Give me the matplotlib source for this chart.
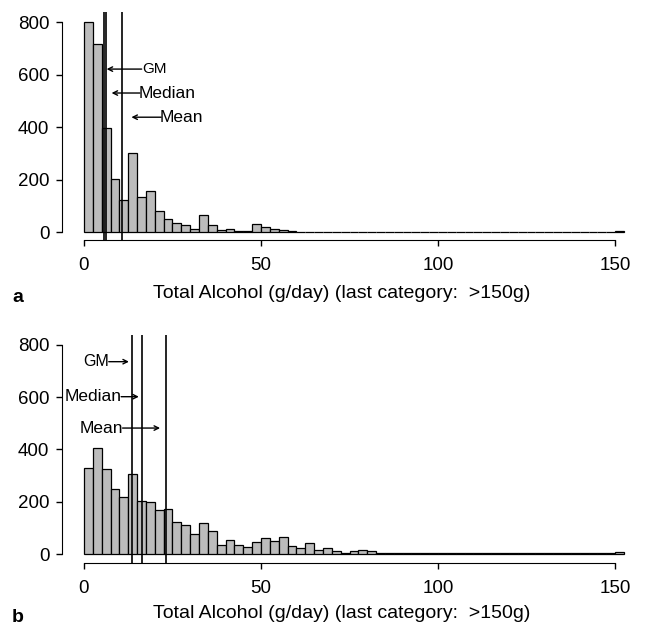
import numpy as np
import matplotlib.pyplot as plt

plt.rcParams['font.family'] = ['Liberation Sans', 'DejaVu Sans']

# bins of 2.5 g/day, last bin = ">150g"
bin_width = 2.5

# panel a: counts per bin
counts_a = [800, 716, 397, 204, 125, 301, 134, 157, 82, 52,
            34, 27, 11, 65, 28, 9, 11, 5, 5, 30,
            20, 13, 10, 4, 3, 2, 2, 2, 3, 1,
            2, 3, 2, 1, 3, 2, 1, 1, 1, 1,
            1, 1, 1, 1, 1, 1, 1, 1, 1, 1,
            1, 1, 1, 1, 1, 1, 1, 1, 1, 1,
            4]
# panel b: counts per bin
counts_b = [329, 404, 325, 248, 218, 307, 201, 199, 167, 172,
            124, 110, 78, 120, 89, 36, 55, 36, 27, 45,
            62, 51, 64, 29, 23, 42, 17, 23, 11, 4,
            13, 17, 11, 5, 5, 5, 5, 2, 2, 2,
            2, 5, 5, 3, 3, 3, 2, 2, 2, 2,
            2, 2, 2, 2, 2, 2, 2, 2, 2, 3,
            7]

stats_a = {'GM': 5.7, 'Median': 6.3, 'Mean': 10.7}
stats_b = {'GM': 13.7, 'Median': 16.3, 'Mean': 23.1}

W, H = 645, 629
fig = plt.figure(figsize=(W / 100, H / 100), dpi=100)


def px_axes(left, right, top, bottom):
    return fig.add_axes([left / W, 1 - bottom / H, (right - left) / W, (bottom - top) / H])


def draw_hist(ax, counts, lines, ybot):
    edges = np.arange(len(counts)) * bin_width
    ax.bar(edges, counts, width=bin_width, align='edge', color='#bcbcbc',
           edgecolor='black', linewidth=0.9)
    for v in lines.values():
        ax.vlines(v, ybot, 840, color='black', linewidth=1.2)
    ax.set_xlim(-6.2, 155.9)
    ax.set_ylim(ybot, 840)
    for s in ['top', 'right']:
        ax.spines[s].set_visible(False)
    ax.spines['bottom'].set_bounds(0, 150)
    ax.spines['left'].set_bounds(0, 800)
    ax.set_xticks([0, 50, 100, 150])
    ax.set_yticks([0, 200, 400, 600, 800])
    ax.tick_params(direction='out', length=4, width=1, pad=5, labelsize=13.5)
    ax.tick_params(axis='x', pad=8)


arrow = dict(arrowstyle='->', color='black', lw=1, mutation_scale=8, shrinkA=0, shrinkB=0)

# panel a
ax1 = px_axes(62, 636, 11.5, 240)
draw_hist(ax1, counts_a, stats_a, -29)
ax1.annotate('', xy=(6.4, 621), xytext=(16.3, 621), arrowprops=arrow)
ax1.text(16.5, 621, 'GM', fontsize=11, va='center', ha='left')
ax1.annotate('', xy=(7.8, 530), xytext=(15.8, 530), arrowprops=arrow)
ax1.text(15.5, 530, 'Median', fontsize=12.5, va='center', ha='left')
ax1.annotate('', xy=(13.4, 438), xytext=(21.8, 438), arrowprops=arrow)
ax1.text(21.5, 438, 'Mean', fontsize=12.5, va='center', ha='left')

# panel b
ax2 = px_axes(62, 636, 334.5, 563)
draw_hist(ax2, counts_b, stats_b, -34.4)
ax2.annotate('', xy=(12.7, 736), xytext=(7.0, 736), arrowprops=arrow)
ax2.text(7.0, 736, 'GM', fontsize=11.5, va='center', ha='right')
ax2.annotate('', xy=(15.5, 602), xytext=(10.5, 602), arrowprops=arrow)
ax2.text(10.6, 602, 'Median', fontsize=12.5, va='center', ha='right')
ax2.annotate('', xy=(21.5, 482), xytext=(10.9, 482), arrowprops=arrow)
ax2.text(11.0, 482, 'Mean', fontsize=12.5, va='center', ha='right')

xlabel = 'Total Alcohol (g/day) (last category:  >150g)'
fig.text(342 / W, 1 - 294 / H, xlabel, fontsize=14, ha='center', va='center')
fig.text(342 / W, 1 - 614 / H, xlabel, fontsize=14, ha='center', va='center')
fig.text(12 / W, 1 - 297 / H, 'a', fontsize=14, fontweight='bold', ha='left', va='center')
fig.text(12 / W, 1 - 617 / H, 'b', fontsize=14, fontweight='bold', ha='left', va='center')

fig.savefig('out.png', dpi=100)
